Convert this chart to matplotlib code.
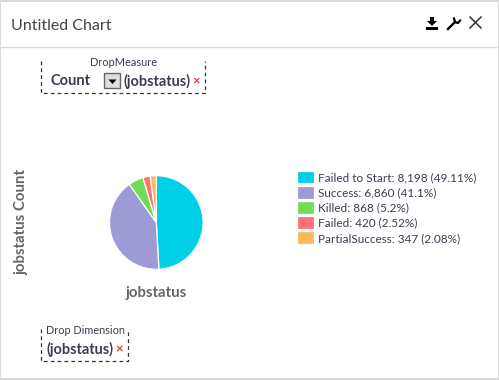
"""Untitled Chart: jobstatus pie inside a dashboard widget frame."""
import matplotlib
matplotlib.use("Agg")
import matplotlib.pyplot as plt
from matplotlib.patches import Polygon, Rectangle

plt.rcParams["font.family"] = ["Lato", "DejaVu Sans"]

W, H = 499, 380
INK = "#3c3c50"

statuses = ["Failed to Start", "Success", "Killed", "Failed", "PartialSuccess"]
counts = [8198, 6860, 868, 420, 347]
shares = ["49.11%", "41.1%", "5.2%", "2.52%", "2.08%"]
colors = ["#00cfe8", "#9d9bd6", "#70dc5a", "#ff7272", "#ffb75e"]


def px_text(ax, x, y, s, size=12, **kw):
    kw.setdefault("color", INK)
    kw.setdefault("va", "center")
    return ax.text(x, y, s, fontsize=size * 0.72, **kw)


def dashed_box(ax, x0, y0, x1, y1):
    # open at the top, the label sits where the top edge would be
    ax.plot([x0, x0, x1, x1], [y0, y1, y1, y0], color="#333333", lw=0.9, ls=(0, (3, 2.5)))


fig = plt.figure(figsize=(W / 100, H / 100), dpi=100)
bg = fig.add_axes([0, 0, 1, 1])
bg.set_xlim(0, W)
bg.set_ylim(H, 0)
bg.axis("off")

# widget frame
border = "#d9d9d9"
bg.add_patch(Rectangle((0, 0), W, 1.5, color=border, lw=0))
bg.add_patch(Rectangle((0, 0), 1.2, H, color=border, lw=0))
bg.add_patch(Rectangle((0, H - 2), W, 2, color=border, lw=0))
bg.add_patch(Rectangle((W - 1.2, 0), 1.2, H, color=border, lw=0))
bg.plot([0, W], [46.5, 46.5], color=border, lw=1)
px_text(bg, 11, 26, "Untitled Chart", size=16, color="#444444")

# toolbar icons
bg.add_patch(Rectangle((426, 27), 12, 3, color="black", lw=0))
bg.add_patch(Polygon([(430, 17), (434, 17), (434, 21), (437, 21), (432, 26), (427, 21), (430, 21)],
                     color="black", lw=0))
bg.plot([448, 455], [29, 22], color="black", lw=1.7)
bg.plot([454, 455, 458, 460], [18.5, 22, 23, 20.5], color="black", lw=1.6)
bg.plot([470, 481], [17, 28], color="#333333", lw=1.1)
bg.plot([481, 470], [17, 28], color="#333333", lw=1.1)

# measure drop zone
dashed_box(bg, 41.5, 61, 205.5, 93)
px_text(bg, 90, 62.5, "DropMeasure", size=11)
px_text(bg, 51, 81, "Count", size=14.6, fontweight="bold")
bg.add_patch(Rectangle((104.5, 73), 16, 15, facecolor="#dddddd", edgecolor="#666666", lw=1))
bg.add_patch(Polygon([(108.5, 79.5), (116.5, 79.5), (112.5, 84)], color="black", lw=0))
px_text(bg, 124, 81, "(jobstatus)", size=14.5, fontweight="bold")
px_text(bg, 196.5, 81, "×", size=13, color="#ee3333", ha="center", fontweight="bold")

# dimension drop zone
dashed_box(bg, 41.5, 329, 128.5, 361)
px_text(bg, 46, 330, "Drop Dimension", size=10.9)
px_text(bg, 47, 349, "(jobstatus)", size=14.5, fontweight="bold")
px_text(bg, 119.5, 349, "×", size=13, color="#ee3333", ha="center", fontweight="bold")

# axis captions
px_text(bg, 22, 222, "jobstatus Count", size=15, fontweight="bold", color="#666666",
        rotation=90, ha="center")
px_text(bg, 156.5, 292.5, "jobstatus", size=15, fontweight="bold", color="#666666", ha="center")

# pie
cx, cy, r = 156.3, 222.5, 46.8
pie_ax = fig.add_axes([(cx - r) / W, 1 - (cy + r) / H, 2 * r / W, 2 * r / H])
wedges, _ = pie_ax.pie(counts, colors=colors, startangle=90, counterclock=False, radius=1,
                       wedgeprops=dict(edgecolor="white", linewidth=0.9))
pie_ax.set_xlim(-1, 1)
pie_ax.set_ylim(-1, 1)

# legend
labels = [f"{s}: {c:,} ({p})" for s, c, p in zip(statuses, counts, shares)]
bg.legend(wedges, labels, loc="upper left", bbox_to_anchor=(297 / W, 1 - 170.5 / H),
          bbox_transform=fig.transFigure, frameon=False, fontsize=8.5, labelcolor=INK,
          borderpad=0, borderaxespad=0, handlelength=1.4, handleheight=1.3,
          handletextpad=0.4, labelspacing=0.2)

fig.savefig("out.png", dpi=100)
